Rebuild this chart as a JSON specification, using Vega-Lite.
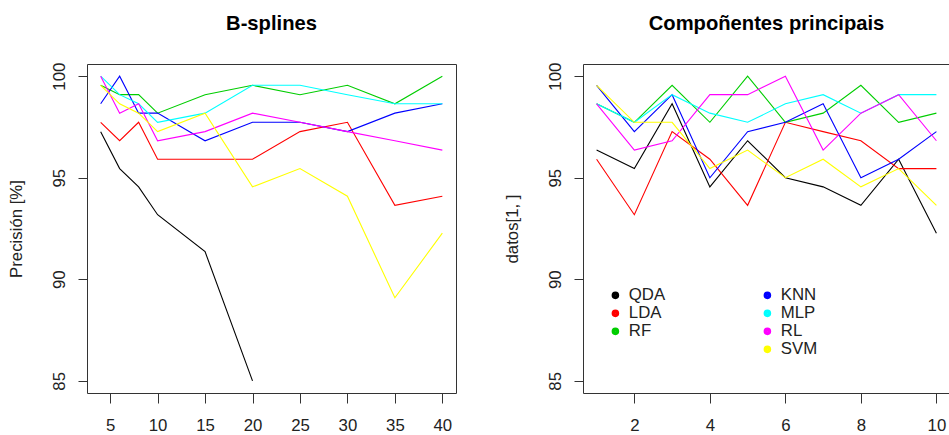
{
  "$schema": "https://vega.github.io/schema/vega-lite/v6.json",
  "background": "white",
  "padding": {"left": 8, "top": 13, "right": 0, "bottom": 0},
  "spacing": 127,
  "bounds": "flush",
  "datasets": {
    "bs": [
      {"m": "QDA", "x": 4, "v": 97.27}, {"m": "QDA", "x": 6, "v": 95.45}, {"m": "QDA", "x": 8, "v": 94.55}, {"m": "QDA", "x": 10, "v": 93.18}, {"m": "QDA", "x": 15, "v": 91.36}, {"m": "QDA", "x": 20, "v": 85.0},
      {"m": "LDA", "x": 4, "v": 97.73}, {"m": "LDA", "x": 6, "v": 96.82}, {"m": "LDA", "x": 8, "v": 97.73}, {"m": "LDA", "x": 10, "v": 95.91}, {"m": "LDA", "x": 15, "v": 95.91}, {"m": "LDA", "x": 20, "v": 95.91}, {"m": "LDA", "x": 25, "v": 97.27}, {"m": "LDA", "x": 30, "v": 97.73}, {"m": "LDA", "x": 35, "v": 93.64}, {"m": "LDA", "x": 40, "v": 94.09},
      {"m": "RF", "x": 4, "v": 99.55}, {"m": "RF", "x": 6, "v": 99.09}, {"m": "RF", "x": 8, "v": 99.09}, {"m": "RF", "x": 10, "v": 98.18}, {"m": "RF", "x": 15, "v": 99.09}, {"m": "RF", "x": 20, "v": 99.55}, {"m": "RF", "x": 25, "v": 99.09}, {"m": "RF", "x": 30, "v": 99.55}, {"m": "RF", "x": 35, "v": 98.64}, {"m": "RF", "x": 40, "v": 100},
      {"m": "KNN", "x": 4, "v": 98.64}, {"m": "KNN", "x": 6, "v": 100}, {"m": "KNN", "x": 8, "v": 98.18}, {"m": "KNN", "x": 10, "v": 98.18}, {"m": "KNN", "x": 15, "v": 96.82}, {"m": "KNN", "x": 20, "v": 97.73}, {"m": "KNN", "x": 25, "v": 97.73}, {"m": "KNN", "x": 30, "v": 97.27}, {"m": "KNN", "x": 35, "v": 98.18}, {"m": "KNN", "x": 40, "v": 98.64},
      {"m": "MLP", "x": 4, "v": 100}, {"m": "MLP", "x": 6, "v": 99.09}, {"m": "MLP", "x": 8, "v": 98.64}, {"m": "MLP", "x": 10, "v": 97.73}, {"m": "MLP", "x": 15, "v": 98.18}, {"m": "MLP", "x": 20, "v": 99.55}, {"m": "MLP", "x": 25, "v": 99.55}, {"m": "MLP", "x": 30, "v": 99.09}, {"m": "MLP", "x": 35, "v": 98.64}, {"m": "MLP", "x": 40, "v": 98.64},
      {"m": "RL", "x": 4, "v": 100}, {"m": "RL", "x": 6, "v": 98.18}, {"m": "RL", "x": 8, "v": 98.64}, {"m": "RL", "x": 10, "v": 96.82}, {"m": "RL", "x": 15, "v": 97.27}, {"m": "RL", "x": 20, "v": 98.18}, {"m": "RL", "x": 25, "v": 97.73}, {"m": "RL", "x": 30, "v": 97.27}, {"m": "RL", "x": 35, "v": 96.82}, {"m": "RL", "x": 40, "v": 96.36},
      {"m": "SVM", "x": 4, "v": 99.55}, {"m": "SVM", "x": 6, "v": 98.64}, {"m": "SVM", "x": 8, "v": 98.18}, {"m": "SVM", "x": 10, "v": 97.27}, {"m": "SVM", "x": 15, "v": 98.18}, {"m": "SVM", "x": 20, "v": 94.55}, {"m": "SVM", "x": 25, "v": 95.45}, {"m": "SVM", "x": 30, "v": 94.09}, {"m": "SVM", "x": 35, "v": 89.09}, {"m": "SVM", "x": 40, "v": 92.27}
    ],
    "pc": [
      {"m": "QDA", "x": 1, "v": 96.36}, {"m": "QDA", "x": 2, "v": 95.45}, {"m": "QDA", "x": 3, "v": 98.64}, {"m": "QDA", "x": 4, "v": 94.55}, {"m": "QDA", "x": 5, "v": 96.82}, {"m": "QDA", "x": 6, "v": 95.0}, {"m": "QDA", "x": 7, "v": 94.55}, {"m": "QDA", "x": 8, "v": 93.64}, {"m": "QDA", "x": 9, "v": 95.91}, {"m": "QDA", "x": 10, "v": 92.27},
      {"m": "LDA", "x": 1, "v": 95.91}, {"m": "LDA", "x": 2, "v": 93.18}, {"m": "LDA", "x": 3, "v": 97.27}, {"m": "LDA", "x": 4, "v": 95.91}, {"m": "LDA", "x": 5, "v": 93.64}, {"m": "LDA", "x": 6, "v": 97.73}, {"m": "LDA", "x": 7, "v": 97.27}, {"m": "LDA", "x": 8, "v": 96.82}, {"m": "LDA", "x": 9, "v": 95.45}, {"m": "LDA", "x": 10, "v": 95.45},
      {"m": "RF", "x": 1, "v": 98.64}, {"m": "RF", "x": 2, "v": 97.73}, {"m": "RF", "x": 3, "v": 99.55}, {"m": "RF", "x": 4, "v": 97.73}, {"m": "RF", "x": 5, "v": 100}, {"m": "RF", "x": 6, "v": 97.73}, {"m": "RF", "x": 7, "v": 98.18}, {"m": "RF", "x": 8, "v": 99.55}, {"m": "RF", "x": 9, "v": 97.73}, {"m": "RF", "x": 10, "v": 98.18},
      {"m": "KNN", "x": 1, "v": 99.55}, {"m": "KNN", "x": 2, "v": 97.27}, {"m": "KNN", "x": 3, "v": 99.09}, {"m": "KNN", "x": 4, "v": 95.0}, {"m": "KNN", "x": 5, "v": 97.27}, {"m": "KNN", "x": 6, "v": 97.73}, {"m": "KNN", "x": 7, "v": 98.64}, {"m": "KNN", "x": 8, "v": 95.0}, {"m": "KNN", "x": 9, "v": 95.91}, {"m": "KNN", "x": 10, "v": 97.27},
      {"m": "MLP", "x": 1, "v": 98.64}, {"m": "MLP", "x": 2, "v": 97.73}, {"m": "MLP", "x": 3, "v": 99.09}, {"m": "MLP", "x": 4, "v": 98.18}, {"m": "MLP", "x": 5, "v": 97.73}, {"m": "MLP", "x": 6, "v": 98.64}, {"m": "MLP", "x": 7, "v": 99.09}, {"m": "MLP", "x": 8, "v": 98.18}, {"m": "MLP", "x": 9, "v": 99.09}, {"m": "MLP", "x": 10, "v": 99.09},
      {"m": "RL", "x": 1, "v": 98.64}, {"m": "RL", "x": 2, "v": 96.36}, {"m": "RL", "x": 3, "v": 96.82}, {"m": "RL", "x": 4, "v": 99.09}, {"m": "RL", "x": 5, "v": 99.09}, {"m": "RL", "x": 6, "v": 100}, {"m": "RL", "x": 7, "v": 96.36}, {"m": "RL", "x": 8, "v": 98.18}, {"m": "RL", "x": 9, "v": 99.09}, {"m": "RL", "x": 10, "v": 96.82},
      {"m": "SVM", "x": 1, "v": 99.55}, {"m": "SVM", "x": 2, "v": 97.73}, {"m": "SVM", "x": 3, "v": 97.73}, {"m": "SVM", "x": 4, "v": 95.45}, {"m": "SVM", "x": 5, "v": 96.36}, {"m": "SVM", "x": 6, "v": 95.0}, {"m": "SVM", "x": 7, "v": 95.91}, {"m": "SVM", "x": 8, "v": 94.55}, {"m": "SVM", "x": 9, "v": 95.45}, {"m": "SVM", "x": 10, "v": 93.64}
    ]
  },
  "hconcat": [
    {
      "width": 369,
      "height": 329,
      "title": {"text": "B-splines", "baseline": "alphabetic", "offset": 11.5},
      "data": {"name": "bs"},
      "encoding": {
        "x": {"field": "x", "type": "quantitative", "scale": {"domain": [2.56, 41.44], "nice": false, "zero": false},
          "axis": {"values": [5, 10, 15, 20, 25, 30, 35, 40], "title": null, "labelAngle": 0, "labelBaseline": "alphabetic", "labelPadding": 27, "tickSize": 10, "labelFlush": false, "labelOverlap": false}},
        "y": {"field": "v", "type": "quantitative", "scale": {"domain": [84.4, 100.6], "nice": false, "zero": false},
          "axis": {"values": [85, 90, 95, 100], "title": "Precisión [%]", "labelAngle": -90, "labelAlign": "center", "labelBaseline": "alphabetic", "labelPadding": 14, "tickSize": 9, "titleAngle": -90, "titleAlign": "center", "titleBaseline": "alphabetic", "titleX": -65.5, "titleY": 164.5, "labelOverlap": false}}
      },
      "layer": [
        {
          "transform": [{"filter": {"field": "m", "oneOf": ["QDA", "LDA", "RF"]}}],
          "mark": {"type": "line", "strokeWidth": 1.1, "clip": true},
          "encoding": {"color": {"field": "m", "type": "nominal", "scale": {"domain": ["QDA", "LDA", "RF"], "range": ["#000000", "#FF0000", "#00CD00"]}, "legend": null}}
        },
        {
          "transform": [{"filter": {"field": "m", "oneOf": ["KNN", "MLP", "RL", "SVM"]}}],
          "mark": {"type": "line", "strokeWidth": 1.1, "clip": true},
          "encoding": {"stroke": {"field": "m", "type": "nominal", "scale": {"domain": ["KNN", "MLP", "RL", "SVM"], "range": ["#0000FF", "#00FFFF", "#FF00FF", "#FFFF00"]}, "legend": null}}
        }
      ]
    },
    {
      "width": 367,
      "height": 329,
      "title": {"text": "Compoñentes principais", "baseline": "alphabetic", "offset": 11.5},
      "data": {"name": "pc"},
      "encoding": {
        "x": {"field": "x", "type": "quantitative", "scale": {"domain": [0.64, 10.36], "nice": false, "zero": false},
          "axis": {"values": [2, 4, 6, 8, 10], "title": null, "labelAngle": 0, "labelBaseline": "alphabetic", "labelPadding": 27, "tickSize": 10, "labelFlush": false, "labelOverlap": false}},
        "y": {"field": "v", "type": "quantitative", "scale": {"domain": [84.4, 100.6], "nice": false, "zero": false},
          "axis": {"values": [85, 90, 95, 100], "title": "datos[1, ]", "labelAngle": -90, "labelAlign": "center", "labelBaseline": "alphabetic", "labelPadding": 14, "tickSize": 9, "titleAngle": -90, "titleAlign": "center", "titleBaseline": "alphabetic", "titleX": -65.5, "titleY": 164.5, "labelOverlap": false}}
      },
      "layer": [
        {
          "transform": [{"filter": {"field": "m", "oneOf": ["QDA", "LDA", "RF"]}}],
          "mark": {"type": "line", "strokeWidth": 1.1, "clip": true},
          "encoding": {"color": {"field": "m", "type": "nominal", "scale": {"domain": ["QDA", "LDA", "RF"], "range": ["#000000", "#FF0000", "#00CD00"]},
            "legend": {"orient": "none", "legendX": 24, "legendY": 223, "title": null, "symbolType": "circle", "symbolSize": 13, "symbolStrokeWidth": 4, "labelFontSize": 16.8, "labelOffset": 5, "rowPadding": 0, "clipHeight": 16.7, "padding": 0}}}
        },
        {
          "transform": [{"filter": {"field": "m", "oneOf": ["KNN", "MLP", "RL", "SVM"]}}],
          "mark": {"type": "line", "strokeWidth": 1.1, "clip": true},
          "encoding": {"stroke": {"field": "m", "type": "nominal", "scale": {"domain": ["KNN", "MLP", "RL", "SVM"], "range": ["#0000FF", "#00FFFF", "#FF00FF", "#FFFF00"]},
            "legend": {"orient": "none", "legendX": 176, "legendY": 223, "title": null, "symbolType": "circle", "symbolSize": 13, "symbolStrokeWidth": 4, "labelFontSize": 16.8, "labelOffset": 5, "rowPadding": 0, "clipHeight": 16.7, "padding": 0}}}
        }
      ],
      "resolve": {"scale": {"color": "independent", "stroke": "independent"}}
    }
  ],
  "resolve": {"scale": {"color": "independent", "stroke": "independent", "x": "independent", "y": "independent"}},
  "config": {
    "font": "Liberation Sans",
    "view": {"stroke": "#333333", "strokeWidth": 1},
    "axis": {"domain": false, "grid": false, "tickColor": "#333333", "labelColor": "#222222", "titleColor": "#222222", "labelFontSize": 16.8, "titleFontSize": 16.8, "titleFontWeight": "normal", "labelFont": "Liberation Sans", "titleFont": "Liberation Sans"},
    "legend": {"labelColor": "#222222", "labelFont": "Liberation Sans"},
    "title": {"fontSize": 20.2, "fontWeight": "bold", "anchor": "middle", "color": "#000000", "font": "Liberation Sans"}
  }
}
